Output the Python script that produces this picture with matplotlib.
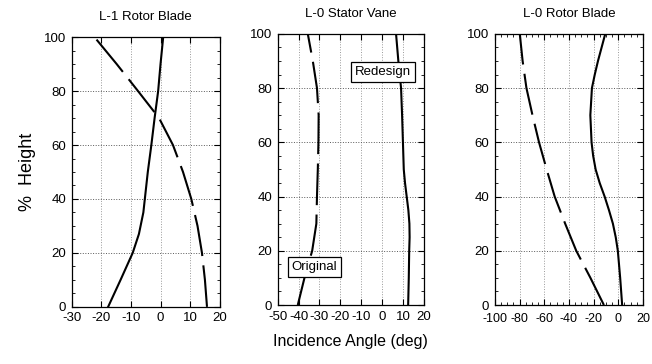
import matplotlib.pyplot as plt
from matplotlib.ticker import MultipleLocator

plt.rcParams['font.family'] = ['Liberation Sans', 'DejaVu Sans']
plt.rcParams['axes.unicode_minus'] = False

# % height stations
height = [0, 10, 20, 30, 40, 50, 60, 70, 80, 90, 100]

# L-1 rotor blade
l1_height_redesign = [0, 10, 20, 27, 35, 40, 50, 60, 70, 80, 90, 100]
l1_redesign = [-17.7, -13.5, -9.4, -7.3, -5.8, -5.3, -4.3, -3.1, -2.0, -0.8, 0.0, 0.9]
l1_original = [15.7, 15.0, 14.0, 12.5, 10.4, 7.6, 4.2, -0.5, -7.6, -14.8, -22.3]

# L-0 stator vane
st_original = [-40.4, -37.2, -33.5, -31.5, -31.2, -30.8, -30.5, -30.4, -31.2, -33.2, -35.6]
st_height_redesign = [0, 10, 20, 25, 30, 35, 40, 45, 50, 60, 70, 80, 90, 100]
st_redesign = [12.5, 12.8, 13.0, 13.2, 13.1, 12.6, 11.8, 11.0, 10.4, 10.0, 9.6, 9.1, 7.8, 6.7]

# L-0 rotor blade
l0_original = [-11.6, -22.5, -34.0, -43.0, -51.5, -58.0, -64.2, -69.5, -74.4, -77.5, -79.8]
l0_height_redesign = [0, 10, 20, 25, 30, 35, 40, 45, 50, 55, 60, 70, 80, 85, 90, 100]
l0_redesign = [3.2, 1.6, -0.3, -2.0, -4.3, -7.5, -11.0, -15.0, -18.3, -20.3, -21.6,
               -22.6, -21.3, -19.0, -16.4, -10.5]

titles = ['L-1 Rotor Blade', 'L-0 Stator Vane', 'L-0 Rotor Blade']
xlims = [(-30, 20), (-50, 20), (-100, 20)]
xsteps = [10, 10, 20]

fig = plt.figure(figsize=(6.52, 3.64), dpi=100)
rects = [[0.110, 0.157, 0.227, 0.741],
         [0.426, 0.162, 0.224, 0.745],
         [0.759, 0.162, 0.227, 0.745]]
axes = [fig.add_axes(r) for r in rects]

dash = dict(color='black', lw=1.5, dashes=(20, 4.5))
solid = dict(color='black', lw=1.5)

axes[0].plot(l1_redesign, l1_height_redesign, **solid)
axes[0].plot(l1_original, height, **dash)
axes[1].plot(st_redesign, st_height_redesign, **solid)
axes[1].plot(st_original, height, **dash)
axes[2].plot(l0_redesign, l0_height_redesign, **solid)
axes[2].plot(l0_original, height, **dash)

for ax, t, xl, st in zip(axes, titles, xlims, xsteps):
    ax.set_xlim(xl)
    ax.set_ylim(0, 100)
    ax.xaxis.set_major_locator(MultipleLocator(st))
    ax.yaxis.set_major_locator(MultipleLocator(20))
    ax.yaxis.set_minor_locator(MultipleLocator(5))
    ax.tick_params(which='both', direction='in', top=True, right=True,
                   labelsize=9.5, pad=4)
    ax.tick_params(which='major', length=4, width=0.8)
    ax.tick_params(which='minor', length=2.5, width=0.6)
    ax.grid(True, axis='y', which='major', ls=':', color='0.35', lw=0.7)
    ax.grid(True, axis='x', which='major', ls=':', color='0.6', lw=0.7)
    ax.set_axisbelow(True)
    for s in ax.spines.values():
        s.set_linewidth(0.9)
    ax.set_title(t, fontsize=9.5, pad=12)

axes[2].xaxis.set_minor_locator(MultipleLocator(5))
axes[2].tick_params(axis='x', labelsize=9, pad=6)

axes[0].set_ylabel('%  Height', fontsize=13, labelpad=6)
axes[1].set_xlabel('Incidence Angle (deg)', fontsize=11.5, labelpad=8)

box = dict(boxstyle='square,pad=0.3', fc='white', ec='black', lw=0.9)
axes[1].text(0.6, 86, 'Redesign', fontsize=9.5, ha='center', va='center', bbox=box)
axes[1].text(-32.3, 13.9, 'Original', fontsize=9.5, ha='center', va='center', bbox=box)

fig.savefig('out.png', dpi=100)
